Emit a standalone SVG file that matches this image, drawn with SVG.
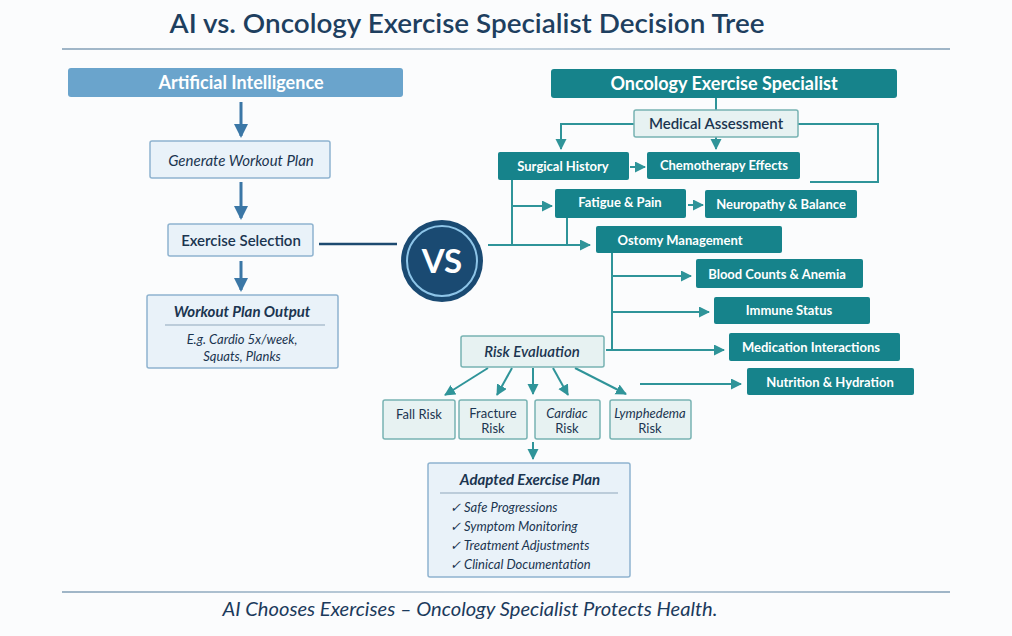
<svg xmlns="http://www.w3.org/2000/svg" width="1012" height="636" viewBox="0 0 1012 636">
<defs>
<marker id="ab" markerUnits="userSpaceOnUse" markerWidth="16" markerHeight="14" refX="12" refY="7" orient="auto"><path d="M0,0 L14,7 L0,14 Z" fill="#3b77a6"/></marker>
<marker id="at" markerUnits="userSpaceOnUse" markerWidth="12" markerHeight="12" refX="10" refY="5.5" orient="auto"><path d="M0,0 L11,5.5 L0,11 Z" fill="#2f9499"/></marker>
<linearGradient id="hl" gradientUnits="userSpaceOnUse" x1="62" y1="0" x2="950" y2="0"><stop offset="0" stop-color="#9fb5c7"/><stop offset="0.5" stop-color="#c3d2de"/><stop offset="1" stop-color="#9fb5c7"/></linearGradient>
</defs>
<style>
text{font-family:Lato,"Open Sans","Liberation Sans",sans-serif}
.t{font-size:26px;fill:#1e3f5f;font-weight:600}
.hdr{font-size:18px;fill:#fff;font-weight:bold}
.bb{fill:#e9f2f9;stroke:#8fb3cf;stroke-width:1.5}
.lb{fill:#e7f2f2;stroke:#78b3b3;stroke-width:1.5}
.tb{fill:#16838b}
.wt{font-size:13px;fill:#fff;font-weight:bold}
.dk{fill:#1b3550;font-size:15px}
.it{font-style:italic}
.bd{font-weight:bold}
.sm{font-size:13px;fill:#1b3550}
.bl{stroke:#3b77a6;stroke-width:3;fill:none}
.tl{stroke:#2f9499;stroke-width:2;fill:none}
</style>
<rect width="1012" height="636" fill="#fbfcfd"/>
<text class="t" x="467" y="33" text-anchor="middle" textLength="595" lengthAdjust="spacingAndGlyphs">AI vs. Oncology Exercise Specialist Decision Tree</text>
<rect x="62" y="48" width="888" height="2" fill="url(#hl)"/>
<rect x="62" y="591" width="888" height="2" fill="url(#hl)"/>
<text x="470" y="616" text-anchor="middle" font-size="19" fill="#1b3a5c" font-style="italic" textLength="495" lengthAdjust="spacingAndGlyphs">AI Chooses Exercises – Oncology Specialist Protects Health.</text>

<g id="connectors">
<line class="bl" x1="241" y1="102" x2="241" y2="136" marker-end="url(#ab)"/>
<line class="bl" x1="241" y1="182" x2="241" y2="218" marker-end="url(#ab)"/>
<line class="bl" x1="241" y1="261" x2="241" y2="290" marker-end="url(#ab)"/>
<line x1="319" y1="244" x2="397" y2="244" stroke="#1d4a70" stroke-width="2.5"/>
<line class="tl" x1="488" y1="245" x2="590" y2="245" marker-end="url(#at)"/>
<line class="tl" x1="512" y1="180" x2="512" y2="245"/>
<line class="tl" x1="567" y1="218" x2="567" y2="245"/>
<line class="tl" x1="512" y1="206" x2="552" y2="206" marker-end="url(#at)"/>
<line class="tl" x1="716" y1="98" x2="716" y2="110"/>
<polyline class="tl" points="634,124 561,124 561,149" marker-end="url(#at)"/>
<line class="tl" x1="716" y1="137" x2="716" y2="149" marker-end="url(#at)"/>
<polyline class="tl" points="798,124 878,124 878,182 810,182"/>
<line class="tl" x1="630" y1="167" x2="645" y2="167" marker-end="url(#at)"/>
<line class="tl" x1="688" y1="205" x2="703" y2="205" marker-end="url(#at)"/>
<line class="tl" x1="612" y1="253" x2="612" y2="350"/>
<line class="tl" x1="612" y1="276" x2="691" y2="276" marker-end="url(#at)"/>
<line class="tl" x1="612" y1="312" x2="709" y2="312" marker-end="url(#at)"/>
<line class="tl" x1="606" y1="350" x2="724" y2="350" marker-end="url(#at)"/>
<line class="tl" x1="640" y1="384" x2="741" y2="384" marker-end="url(#at)"/>
<line class="tl" x1="488" y1="368" x2="445" y2="395" marker-end="url(#at)"/>
<line class="tl" x1="512" y1="368" x2="497" y2="395" marker-end="url(#at)"/>
<line class="tl" x1="533" y1="368" x2="533" y2="394" marker-end="url(#at)"/>
<line class="tl" x1="553" y1="368" x2="568" y2="395" marker-end="url(#at)"/>
<line class="tl" x1="575" y1="368" x2="626" y2="394" marker-end="url(#at)"/>
<line class="tl" x1="533" y1="442" x2="533" y2="459" marker-end="url(#at)"/>
</g>

<g id="ai-header"><rect x="68" y="68" width="335" height="29" rx="3" fill="#6aa4cc"/><text class="hdr" x="241" y="89" text-anchor="middle">Artificial Intelligence</text></g>
<g id="generate"><rect class="bb" x="150" y="141" width="180" height="37" rx="2"/><text class="dk it" x="241" y="166" text-anchor="middle" font-size="16">Generate Workout Plan</text></g>
<g id="selection"><rect class="bb" x="168" y="224" width="145" height="32" rx="2"/><text class="dk" x="241" y="246" text-anchor="middle" font-weight="600">Exercise Selection</text></g>
<g id="output"><rect class="bb" x="147" y="295" width="191" height="73" rx="2"/>
<text class="dk it bd" x="242" y="317" text-anchor="middle" font-size="15">Workout Plan Output</text>
<line x1="165" y1="325" x2="325" y2="325" stroke="#8fa7bb" stroke-width="1"/>
<text class="sm it" x="242" y="344" text-anchor="middle">E.g. Cardio 5x/week,</text>
<text class="sm it" x="242" y="361" text-anchor="middle">Squats, Planks</text></g>

<g id="vs"><circle cx="442" cy="261" r="41" fill="#1a4a72"/><circle cx="442" cy="261" r="35" fill="none" stroke="#8ec5e8" stroke-width="2"/><text x="442" y="273" text-anchor="middle" font-size="33" font-weight="bold" fill="#fff">VS</text></g>

<g id="onc-header"><rect class="tb" x="551" y="69" width="346" height="29" rx="3"/><text class="hdr" x="724" y="90" text-anchor="middle">Oncology Exercise Specialist</text></g>
<g id="medical"><rect class="lb" x="634" y="110" width="164" height="27" rx="2"/><text class="dk" x="716" y="129" text-anchor="middle" font-weight="600">Medical Assessment</text></g>
<g id="surgical"><rect class="tb" x="498" y="152" width="131" height="28" rx="2"/><text class="wt" x="563" y="171" text-anchor="middle">Surgical History</text></g>
<g id="chemo"><rect class="tb" x="647" y="152" width="153" height="27" rx="2"/><text class="wt" x="724" y="170" text-anchor="middle">Chemotherapy Effects</text></g>
<g id="fatigue"><rect class="tb" x="555" y="189" width="131" height="29" rx="2"/><text class="wt" x="620" y="207" text-anchor="middle">Fatigue &amp; Pain</text></g>
<g id="neuropathy"><rect class="tb" x="705" y="190" width="152" height="28" rx="2"/><text class="wt" x="781" y="209" text-anchor="middle">Neuropathy &amp; Balance</text></g>
<g id="ostomy"><rect class="tb" x="596" y="226" width="186" height="27" rx="2"/><text class="wt" x="680" y="245" text-anchor="middle">Ostomy Management</text></g>
<g id="blood"><rect class="tb" x="696" y="259" width="167" height="29" rx="2"/><text class="wt" x="777" y="279" text-anchor="middle">Blood Counts &amp; Anemia</text></g>
<g id="immune"><rect class="tb" x="714" y="297" width="156" height="27" rx="2"/><text class="wt" x="789" y="315" text-anchor="middle">Immune Status</text></g>
<g id="medication"><rect class="tb" x="729" y="333" width="171" height="28" rx="2"/><text class="wt" x="811" y="352" text-anchor="middle">Medication Interactions</text></g>
<g id="nutrition"><rect class="tb" x="747" y="368" width="167" height="27" rx="2"/><text class="wt" x="830" y="387" text-anchor="middle">Nutrition &amp; Hydration</text></g>

<g id="risk"><rect class="lb" x="461" y="336" width="143" height="31" rx="2"/><text class="dk it" x="532" y="357" text-anchor="middle" font-weight="600" font-size="16">Risk Evaluation</text></g>
<g id="fall"><rect class="lb" x="383" y="400" width="72" height="39" rx="2"/><text class="sm" x="419" y="419" text-anchor="middle">Fall Risk</text></g>
<g id="fracture"><rect class="lb" x="459" y="400" width="68" height="39" rx="2"/><text class="sm" x="493" y="418" text-anchor="middle">Fracture</text><text class="sm" x="493" y="433" text-anchor="middle">Risk</text></g>
<g id="cardiac"><rect class="lb" x="535" y="400" width="65" height="39" rx="2"/><text class="sm it" x="567" y="418" text-anchor="middle">Cardiac</text><text class="sm" x="567" y="433" text-anchor="middle">Risk</text></g>
<g id="lymphedema"><rect class="lb" x="610" y="400" width="81" height="39" rx="2"/><text class="sm it" x="650" y="418" text-anchor="middle" font-size="12">Lymphedema</text><text class="sm" x="650" y="433" text-anchor="middle">Risk</text></g>

<g id="adapted"><rect class="bb" x="428" y="463" width="202" height="114" rx="2"/>
<text class="dk it bd" x="530" y="485" text-anchor="middle" font-size="15">Adapted Exercise Plan</text>
<line x1="440" y1="493" x2="618" y2="493" stroke="#8fa7bb" stroke-width="1"/>
<text class="sm it" x="450" y="512" font-size="12">✓  Safe Progressions</text>
<text class="sm it" x="450" y="531" font-size="12">✓  Symptom Monitoring</text>
<text class="sm it" x="450" y="550" font-size="12">✓  Treatment Adjustments</text>
<text class="sm it" x="450" y="569" font-size="12">✓  Clinical Documentation</text></g>
</svg>
